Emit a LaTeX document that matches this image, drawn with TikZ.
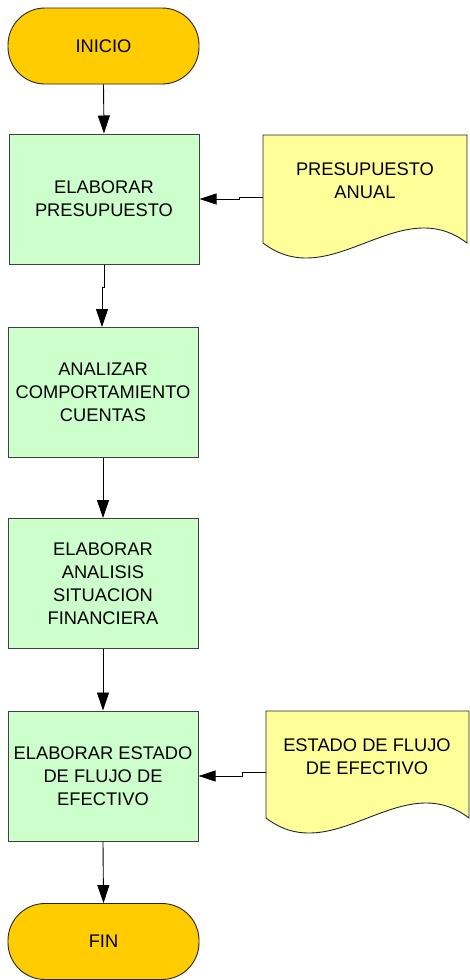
\documentclass[tikz,border=0pt]{standalone}
\usepackage{fontspec}
\setmainfont{Liberation Sans}
\usetikzlibrary{arrows.meta}
\definecolor{termfill}{HTML}{FFCC00}
\definecolor{procfill}{HTML}{CCFFCC}
\definecolor{docfill}{HTML}{FFFF99}
\definecolor{procline}{HTML}{404040}
\tikzset{
  lbl/.style={font=\fontsize{18.3}{22.8}\selectfont, align=center, text=black},
  term/.style={lbl, draw=black!85, line width=0.9pt, fill=termfill, rounded corners=37pt,
    minimum width=191pt, minimum height=76pt, inner sep=0pt},
  proc/.style={lbl, draw=procline, line width=1pt, fill=procfill,
    minimum width=190pt, minimum height=130pt, inner sep=0pt},
  docshape/.style={draw=black!85, line width=0.9pt, fill=docfill},
  doctext/.style={lbl, inner sep=0pt},
  arr/.style={draw=black, line width=0.9pt, -{Triangle[length=18pt,width=12pt]}},
  harr/.style={draw=black, line width=0.9pt, -{Triangle[length=17pt,width=11pt]}}
}
\begin{document}
\begin{tikzpicture}[x=1pt,y=-1pt]
\useasboundingbox (0,0) rectangle (469,980);

% terminals and processes
\node[term] (ini) at (103.5,46) {INICIO};
\node[proc] (p1) at (104,199) {ELABORAR\\PRESUPUESTO};
\node[proc] (p2) at (103,392.5) {ANALIZAR\\COMPORTAMIENTO\\CUENTAS};
\node[proc] (p3) at (103,583.5) {ELABORAR\\ANALISIS\\SITUACION\\FINANCIERA};
\node[proc] (p4) at (103,776) {ELABORAR ESTADO\\DE FLUJO DE\\EFECTIVO};
\node[term] (fin) at (103.5,941.5) {FIN};

% documents
\path[docshape] (263,135) -- (467,135) -- (467,243)
  .. controls (399,191) and (331,295) .. (263,243) -- cycle;
\node[doctext] (d1) at (365,181) {PRESUPUESTO\\ANUAL};
\coordinate (d1w) at (263,197);

\path[docshape] (266,711) -- (469,711) -- (469,818)
  .. controls (401,766) and (334,870) .. (266,818) -- cycle;
\node[doctext] (d2) at (367,757) {ESTADO DE FLUJO\\DE EFECTIVO};
\coordinate (d2w) at (266,772);

% connectors
\draw[arr] (ini.south) -- (p1.north);
\draw[arr] (p1.south) -- ++(0,23) -- ++(-2,0) coordinate (j1) -- (j1 |- p2.north);
\draw[arr] (p2.south) -- (p3.north);
\draw[arr] (p3.south) -- (p4.north);
\draw[arr] (p4.south) -- (fin.north);
\draw[harr] (d1w) -- (239,197) -- (239,199) -- (p1.east);
\draw[harr] (d2w) -- (242,772) -- (242,776) -- (p4.east);
\end{tikzpicture}
\end{document}
